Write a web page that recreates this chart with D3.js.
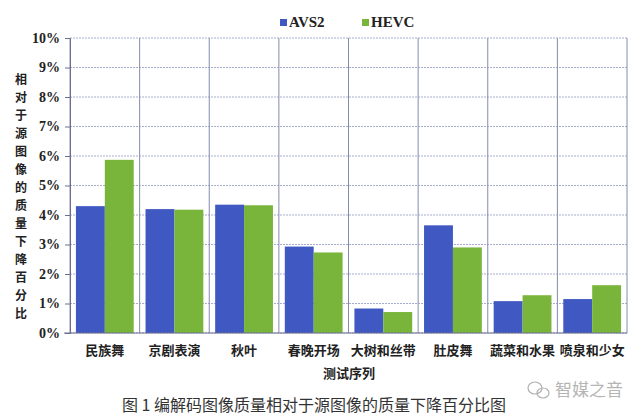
<!DOCTYPE html>
<html><head><meta charset="utf-8">
<script src="https://cdn.jsdelivr.net/npm/d3@7/dist/d3.min.js"></script>
<style>
body{margin:0;background:#fff;}
svg{display:block;}
.cjk{font-family:"Noto Sans CJK SC","Noto Sans CJK JP",sans-serif;}
.ser{font-family:"Liberation Serif","DejaVu Serif",serif;}
</style></head>
<body><svg id="c" width="640" height="420"></svg>
<script>
const categories = ["民族舞","京剧表演","秋叶","春晚开场","大树和丝带","肚皮舞","蔬菜和水果","喷泉和少女"];
const seriesNames = ["AVS2","HEVC"];
const avs2 = [4.3, 4.2, 4.35, 2.93, 0.83, 3.65, 1.08, 1.15];
const hevc = [5.87, 4.18, 4.33, 2.73, 0.71, 2.9, 1.28, 1.62];
const yTicks = [0,1,2,3,4,5,6,7,8,9,10];
const colors = ["#3f58c2","#78b53a"];

const svg = d3.select("#c");
const L=70, R=627, T=38, B=333;
const x = d3.scaleBand().domain(categories).range([L,R]).paddingInner(0).paddingOuter(0);
const xs = d3.scaleBand().domain(seriesNames).range([0,x.bandwidth()]).paddingInner(0).paddingOuter(0.205);
const y = d3.scaleLinear().domain([0,10]).range([B,T]);

// horizontal grid
svg.append("g").selectAll("line").data(yTicks).join("line")
  .attr("x1",L).attr("x2",R).attr("y1",d=>y(d)).attr("y2",d=>y(d))
  .attr("stroke","#a7add0").attr("stroke-width",1).attr("stroke-dasharray","2,1");
// vertical grid
const vx = categories.map(c=>x(c)).concat([R]);
svg.append("g").selectAll("line").data(vx).join("line")
  .attr("x1",d=>d).attr("x2",d=>d).attr("y1",T).attr("y2",B)
  .attr("stroke","#858cae").attr("stroke-width",1);

// bars
const data = categories.map((c,i)=>({c, v:[avs2[i],hevc[i]]}));
const g = svg.append("g").selectAll("g").data(data).join("g")
  .attr("transform",d=>`translate(${x(d.c)},0)`);
g.selectAll("rect").data(d=>d.v.map((v,j)=>({s:seriesNames[j],v,j}))).join("rect")
  .attr("x",d=>xs(d.s)).attr("width",xs.bandwidth())
  .attr("y",d=>y(d.v)).attr("height",d=>B-y(d.v))
  .attr("fill",d=>colors[d.j]);

// baseline
svg.append("line").attr("x1",L-6).attr("x2",R).attr("y1",B).attr("y2",B).attr("stroke","#6c7090");

// y axis
const ya = d3.axisLeft(y).tickValues(yTicks).tickFormat(d=>d+"%").tickSize(5).tickPadding(5);
const yg = svg.append("g").attr("transform",`translate(${L},0)`).call(ya);
yg.select(".domain").attr("stroke","#6c7090");
yg.selectAll(".tick line").attr("stroke","#6c7090");
yg.selectAll("text").attr("class","ser").attr("font-size",14).attr("font-weight","bold").attr("fill","#222");

// x axis labels
const xa = d3.axisBottom(x).tickSize(0).tickPadding(13);
const xg = svg.append("g").attr("transform",`translate(0,${B})`).call(xa);
xg.select(".domain").remove();
xg.selectAll("text").attr("class","cjk").attr("font-size",13).attr("font-weight","bold").attr("fill","#222");

// x title
svg.append("text").attr("class","cjk").attr("x",349).attr("y",378).attr("text-anchor","middle")
  .attr("font-size",13).attr("font-weight","bold").attr("fill","#222").text("测试序列");

// y title vertical
const yt = "相对于源图像的质量下降百分比".split("");
svg.append("g").selectAll("text").data(yt).join("text").attr("class","cjk")
  .attr("x",21).attr("y",(d,i)=>84+i*18).attr("text-anchor","middle")
  .attr("font-size",12).attr("font-weight","bold").attr("fill","#222").text(d=>d);

// legend
const lg = svg.append("g");
const lx = [280, 362];
seriesNames.forEach((s,i)=>{
  lg.append("rect").attr("x",lx[i]).attr("y",19).attr("width",7).attr("height",7).attr("fill",colors[i]);
  lg.append("text").attr("class","ser").attr("x",lx[i]+9).attr("y",27).attr("font-size",15).attr("font-weight","bold").attr("fill","#222").text(s);
});

// caption
svg.append("text").attr("class","cjk").attr("x",314).attr("y",411).attr("text-anchor","middle")
  .attr("font-size",16).attr("fill","#333").text("图 1  编解码图像质量相对于源图像的质量下降百分比图");

// watermark
const wm = svg.append("g").attr("fill","none").attr("stroke","#b0b0b0").attr("stroke-width",1.2);
wm.append("ellipse").attr("cx",535).attr("cy",388).attr("rx",7).attr("ry",6);
wm.append("ellipse").attr("cx",543).attr("cy",393).attr("rx",6).attr("ry",5);
svg.append("text").attr("class","cjk").attr("x",555).attr("y",396).attr("font-size",17).attr("fill","#b5b5b5").text("智媒之音");
</script></body></html>
